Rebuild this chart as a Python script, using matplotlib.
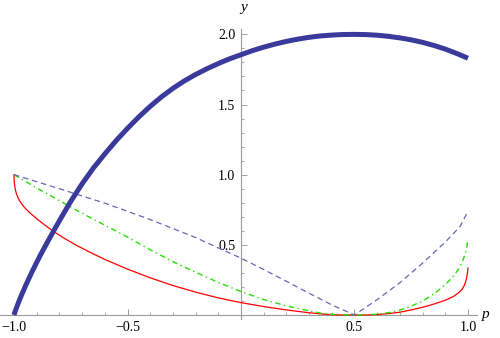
import matplotlib
matplotlib.use("Agg")
import matplotlib.pyplot as plt
from matplotlib.ticker import FixedLocator

# ---- data ----
thick_p = [-1.0, -0.995, -0.99, -0.98, -0.97, -0.96, -0.95, -0.935, -0.92, -0.9, -0.885,
           -0.85, -0.8, -0.75, -0.7, -0.65, -0.6, -0.55, -0.5, -0.45, -0.4, -0.35, -0.3,
           -0.25, -0.2, -0.15, -0.1, -0.05, 0.0, 0.05, 0.1, 0.15, 0.2, 0.25, 0.3, 0.35,
           0.4, 0.45, 0.5, 0.55, 0.6, 0.65, 0.7, 0.75, 0.8, 0.85, 0.9, 0.95, 1.0]
thick_y = [0.0, 0.025, 0.048, 0.09, 0.13, 0.168, 0.205, 0.258, 0.31, 0.375, 0.423,
           0.528, 0.672, 0.81, 0.935, 1.048, 1.148, 1.243, 1.33, 1.412, 1.487, 1.555, 1.615,
           1.668, 1.714, 1.755, 1.792, 1.826, 1.855, 1.884, 1.909, 1.931, 1.95, 1.966, 1.979, 1.989,
           1.995, 1.999, 2.0, 1.9985, 1.994, 1.986, 1.975, 1.961, 1.943, 1.921, 1.895, 1.864, 1.83]

red_p = [-1.0, -0.9995, -0.998, -0.995, -0.99, -0.983, -0.974, -0.962, -0.948, -0.93,
         -0.9, -0.87, -0.83, -0.78, -0.72, -0.65, -0.6, -0.5, -0.4, -0.3, -0.2, -0.1,
         0.0, 0.1, 0.2, 0.3, 0.35, 0.4, 0.45, 0.5, 0.55, 0.6, 0.65, 0.7, 0.75, 0.8,
         0.85, 0.9, 0.935, 0.96, 0.975, 0.985, 0.992, 0.997, 1.0]
red_y = [1.0, 0.965, 0.935, 0.9, 0.868, 0.838, 0.81, 0.782, 0.756, 0.728,
         0.686, 0.648, 0.6, 0.548, 0.492, 0.435, 0.396, 0.327, 0.265, 0.21, 0.163, 0.122,
         0.088, 0.06, 0.036, 0.016, 0.008, 0.002, 0.0, 0.0, 0.0, 0.003, 0.01, 0.02, 0.036,
         0.055, 0.078, 0.105, 0.131, 0.16, 0.185, 0.215, 0.25, 0.29, 0.335]

green_p = [-1.0, -0.9, -0.8, -0.7, -0.6, -0.5, -0.4, -0.3, -0.2, -0.1, 0.0, 0.1, 0.2,
           0.3, 0.35, 0.4, 0.45, 0.5, 0.55, 0.6, 0.65, 0.7, 0.75, 0.8, 0.85, 0.9,
           0.94, 0.965, 0.98, 0.99, 0.997, 1.0]
green_y = [1.0, 0.905, 0.815, 0.725, 0.64, 0.555, 0.465, 0.38, 0.305, 0.232, 0.167, 0.11, 0.065,
           0.03, 0.014, 0.005, 0.001, 0.0, 0.001, 0.006, 0.017, 0.035, 0.063, 0.10, 0.15, 0.215,
           0.285, 0.345, 0.40, 0.45, 0.505, 0.54]

dash_p = [-1.0, -0.8, -0.6, -0.4, -0.2, 0.0, 0.1, 0.2, 0.3, 0.4, 0.5,
          0.6, 0.7, 0.8, 0.9, 0.965, 1.0]
dash_y = [1.0, 0.90, 0.797, 0.68, 0.552, 0.405, 0.324, 0.24, 0.155, 0.072, 0.0,
          0.11, 0.23, 0.37, 0.52, 0.63, 0.74]

x_ticks = [-1.0, -0.5, 0.5, 1.0]
x_labels = ["\u22121.0", "\u22120.5", "0.5", "1.0"]
y_ticks = [0.5, 1.0, 1.5, 2.0]
y_labels = ["0.5", "1.0", "1.5", "2.0"]

plt.rcParams['font.family'] = ['Liberation Serif', 'DejaVu Serif']

fig = plt.figure(figsize=(5.0, 3.38), dpi=100)
ax = fig.add_axes([0, 0, 1, 1])
ax.set_xlim(-1.0617, 1.141)
ax.set_ylim(-0.164, 2.245)
ax.patch.set_alpha(0)

ax.plot(red_p, red_y, color='#ff0000', lw=0.9, zorder=3)
ax.plot(green_p, green_y, color='#22e000', lw=1.0, dashes=(4.0, 2.5, 1.0, 2.5), zorder=3)
ax.plot(dash_p, dash_y, color='#6666b8', lw=0.9, dashes=(4.5, 3.0), zorder=3)
ax.plot(thick_p, thick_y, color='#3a3a9c', lw=3.6, solid_capstyle='butt',
        solid_joinstyle='round', zorder=4)

axis_col = '#9a9a9a'
for side in ['top', 'right']:
    ax.spines[side].set_visible(False)
ax.spines['left'].set_position(('data', 0))
ax.spines['bottom'].set_position(('data', 0))
ax.spines['left'].set_bounds(-0.03, 2.04)
ax.spines['bottom'].set_bounds(-1.07, 1.04)
for side in ['left', 'bottom']:
    ax.spines[side].set_color(axis_col)
    ax.spines[side].set_linewidth(0.8)
    ax.spines[side].set_zorder(1)

ax.xaxis.set_major_locator(FixedLocator(x_ticks))
ax.set_xticklabels(x_labels)
ax.yaxis.set_major_locator(FixedLocator(y_ticks))
ax.set_yticklabels(y_labels)
ax.xaxis.set_minor_locator(FixedLocator([-0.9, -0.8, -0.7, -0.6, -0.4, -0.3, -0.2, -0.1,
                                         0.1, 0.2, 0.3, 0.4, 0.6, 0.7, 0.8, 0.9]))
ax.yaxis.set_minor_locator(FixedLocator([0.1, 0.2, 0.3, 0.4, 0.6, 0.7, 0.8, 0.9,
                                         1.1, 1.2, 1.3, 1.4, 1.6, 1.7, 1.8, 1.9]))
ax.tick_params(which='major', direction='in', length=4.0, width=0.7, color=axis_col,
               labelsize=10, pad=4, labelcolor='#000000')
ax.tick_params(which='minor', direction='in', length=2.2, width=0.6, color=axis_col)

ax.text(1.08, 0.0, "p", fontsize=11, style='italic', ha='center', va='center')
ax.text(0.01, 2.19, "y", fontsize=11, style='italic', ha='center', va='center')

fig.savefig("out.png", dpi=100)
